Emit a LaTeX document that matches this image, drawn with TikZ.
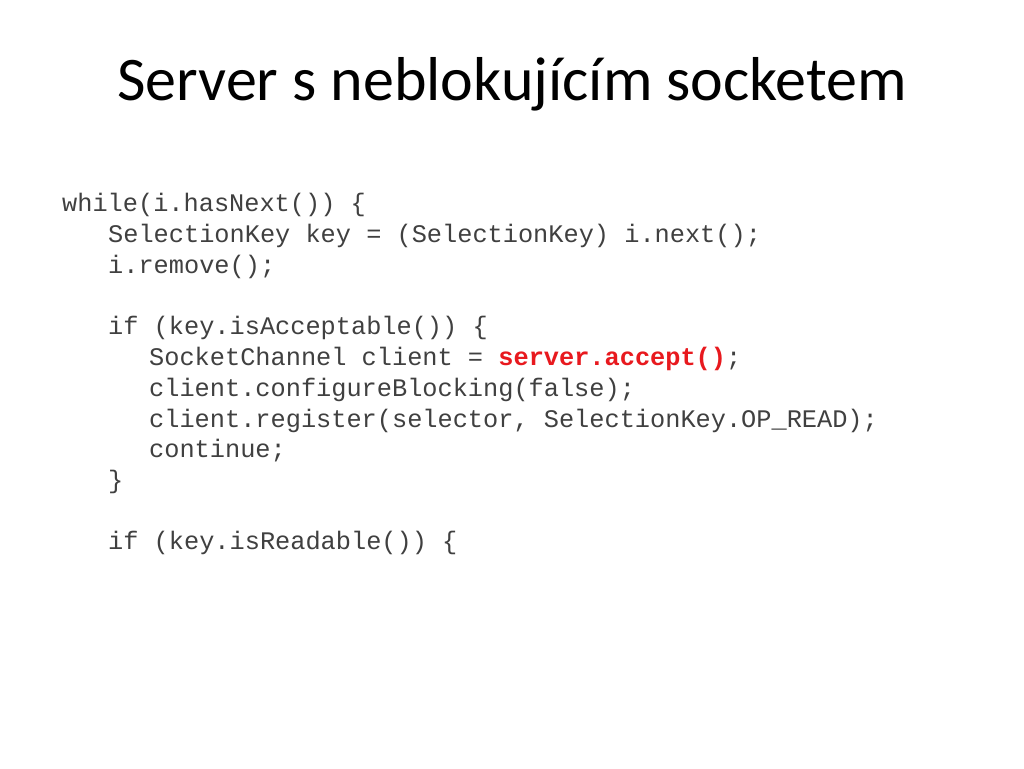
\documentclass[tikz,border=0pt]{standalone}
\usepackage{fontspec}
\setmainfont{Carlito}
\newfontfamily\codefont{Liberation Mono}
\definecolor{codegray}{HTML}{404040}
\definecolor{hl}{HTML}{E8191E}
\begin{document}
\begin{tikzpicture}[x=1pt,y=-1pt,
  codeline/.style={anchor=base west,inner sep=0pt,font=\codefont\fontsize{25.3}{30}\selectfont,text=codegray}]
\useasboundingbox[fill=white] (0,0) rectangle (1024,768);
\node[anchor=base,inner sep=0pt,font=\fontsize{62}{70}\selectfont] (title) at (512,100) {Server s neblokujícím socketem};
\node[codeline] (l1) at (62,211) {while(i.hasNext()) \{};
\node[codeline] (l2) at (108,242) {SelectionKey key = (SelectionKey) i.next();};
\node[codeline] (l3) at (108,273) {i.remove();};
\node[codeline] (l4) at (108,334) {if (key.isAcceptable()) \{};
\node[codeline] (l5) at (149,365) {SocketChannel client = \textcolor{hl}{\bfseries server.accept()};};
\node[codeline] (l6) at (149,396) {client.configureBlocking(false);};
\node[codeline] (l7) at (149,427) {client.register(selector, SelectionKey.OP\_READ);};
\node[codeline] (l8) at (149,457) {continue;};
\node[codeline] (l9) at (108,488) {\}};
\node[codeline] (l10) at (108,549) {if (key.isReadable()) \{};
\end{tikzpicture}
\end{document}
